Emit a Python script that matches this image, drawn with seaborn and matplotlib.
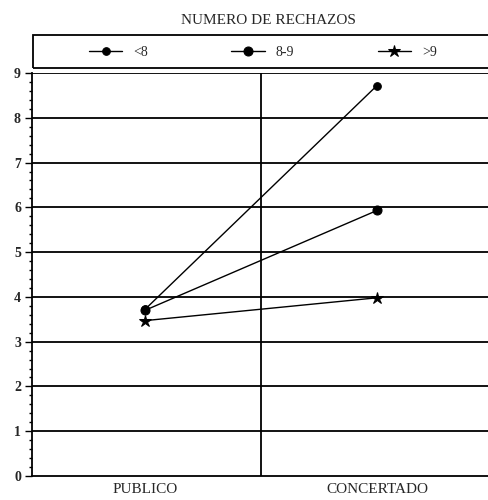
import matplotlib
matplotlib.use("Agg")
import matplotlib.pyplot as plt
import seaborn as sns
import pandas as pd
from matplotlib.patches import Rectangle
from matplotlib.ticker import MultipleLocator

categories = ["PUBLICO", "CONCERTADO"]
series_names = ["<8", "8-9", ">9"]
vals_lt8 = [3.72, 8.72]
vals_8_9 = [3.70, 5.93]
vals_gt9 = [3.47, 3.98]
title = "NUMERO DE RECHAZOS"

sns.set_theme(style="white")
plt.rcParams["font.family"] = ["Liberation Serif", "DejaVu Serif"]

rows = []
for name, vals in zip(series_names, [vals_lt8, vals_8_9, vals_gt9]):
    for i, v in enumerate(vals):
        rows.append({"x": i, "cat": categories[i], "serie": name, "valor": v})
df = pd.DataFrame(rows)

fig = plt.figure(figsize=(4.88, 5.0), dpi=100)
ax = fig.add_axes([32 / 488, 24 / 500, 461 / 488, 403 / 500])

markers = {"<8": "o", "8-9": "o", ">9": "*"}
sizes = {"<8": 5.5, "8-9": 6.5, ">9": 9}
for name in series_names:
    sub = df[df["serie"] == name]
    sns.lineplot(data=sub, x="x", y="valor", ax=ax, color="black",
                 marker=markers[name], markersize=sizes[name], linewidth=1.0,
                 markeredgecolor="black", label=name, legend=False)

ax.set_xlim(-0.487, 1.5)
ax.set_ylim(0, 9)
ax.yaxis.set_major_locator(MultipleLocator(1))
ax.yaxis.set_minor_locator(MultipleLocator(0.2))
ax.set_yticks(range(0, 10))
ax.set_yticklabels([str(i) for i in range(10)], fontsize=10, fontweight="bold")
ax.tick_params(axis="y", which="major", direction="out", length=5, width=1.0, color="black", left=True, pad=3)
ax.tick_params(axis="y", which="minor", direction="out", length=2.5, width=1.0, color="black", left=True)
ax.set_xticks([0, 1])
ax.set_xticklabels(categories, fontsize=11)
ax.tick_params(axis="x", length=0, pad=5)
ax.set_xlabel("")
ax.set_ylabel("")
for y in range(1, 10):
    ax.axhline(y, color="black", linewidth=1.3, zorder=0)
ax.axvline(0.5, color="black", linewidth=1.3, zorder=0)
for s in ["left", "bottom"]:
    ax.spines[s].set_color("black")
    ax.spines[s].set_linewidth(1.3)
ax.spines["top"].set_visible(False)
ax.spines["right"].set_visible(False)

fig.text(268 / 488, 1 - 24 / 500, title, ha="center", va="baseline", fontsize=11)

fig.patches.append(Rectangle((33 / 488, 1 - 68 / 500), 1.0, 33 / 500,
                             transform=fig.transFigure, fill=False,
                             edgecolor="black", linewidth=1.3))
handles = ax.get_lines()[:3]
leg = fig.legend(handles, series_names, loc="center", ncol=3,
                 bbox_to_anchor=(263 / 488, 1 - 52 / 500), frameon=False,
                 fontsize=10, handlelength=2.4, columnspacing=6.0, handletextpad=0.8)

fig.savefig("out.png", dpi=100)
